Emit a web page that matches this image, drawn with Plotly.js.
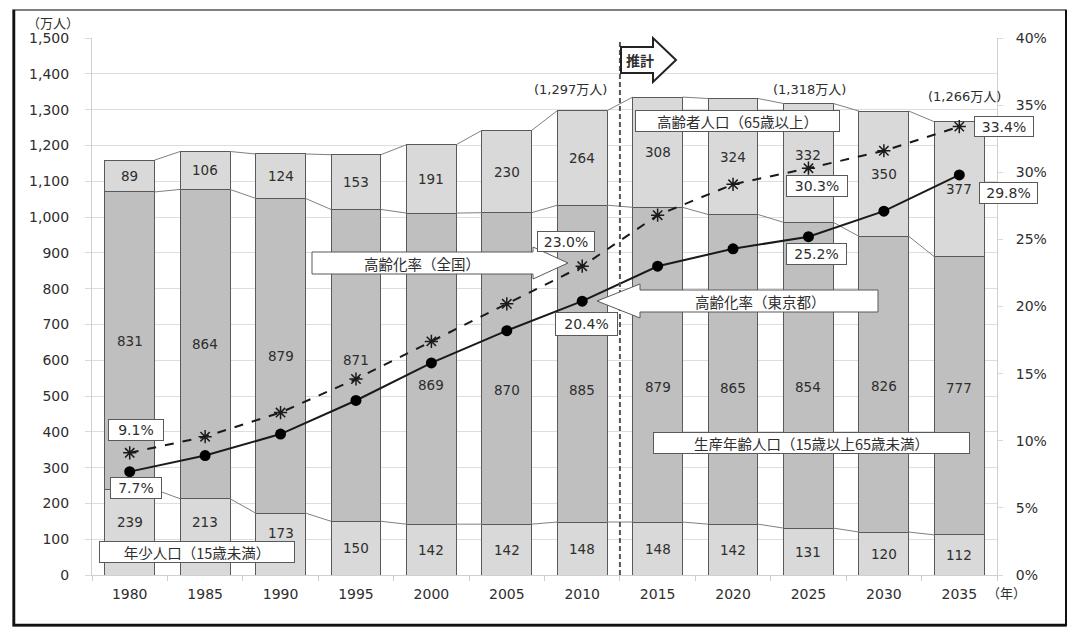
<!DOCTYPE html>
<html><head><meta charset="utf-8">
<script src="https://cdn.plot.ly/plotly-3.0.1.min.js"></script>
<style>html,body{margin:0;padding:0;background:#fff}</style>
</head><body><div id="chart" style="width:1080px;height:638px"></div>
<script>
// ---- data ----
const years = ['1980','1985','1990','1995','2000','2005','2010','2015','2020','2025','2030','2035'];
const young   = [239, 213, 173, 150, 142, 142, 148, 148, 142, 131, 120, 112];
const working = [831, 864, 879, 871, 869, 870, 885, 879, 865, 854, 826, 777];
const elderly = [89, 106, 124, 153, 191, 230, 264, 308, 324, 332, 350, 377];
const rateTokyo = [7.7, 8.9, 10.5, 13.0, 15.8, 18.2, 20.4, 23.0, 24.3, 25.2, 27.1, 29.8];
const rateJapan = [9.1, 10.3, 12.1, 14.6, 17.4, 20.2, 23.0, 26.8, 29.1, 30.3, 31.6, 33.4];
const totalIdx = [6, 9, 11];
const totalVal = [1297, 1318, 1266];

// ---- label placement tweaks (pixels) ----
const youngShift   = [10, 15, 11, 0, 0, 0, 0, 0, 0, 0, 0, 0];
const workShift    = [0, 0, 0, 5, -16, -22, -26, -22, -19, -12, -2, 8];
const elderShift   = [0, 0, 0, 0, 0, 0, 0, 0, 0, 8, 0, 0];

const idx = years.map((_, i) => i);
const BW = 0.66;
const FONT = 'DejaVu Sans, "Noto Sans CJK JP", sans-serif';
const JFONT = '"Noto Sans CJK JP", sans-serif';
const TXT = '#2e2e2e';

const cum1 = young.slice();
const cum2 = young.map((v, i) => v + working[i]);
const cum3 = cum2.map((v, i) => v + elderly[i]);

function seriesLine(c) {
  const xs = [], ys = [];
  for (let i = 0; i < c.length - 1; i++) {
    xs.push(i + BW / 2, i + 1 - BW / 2, null);
    ys.push(c[i], c[i + 1], null);
  }
  return {type: 'scatter', mode: 'lines', x: xs, y: ys, hoverinfo: 'skip',
          line: {color: '#808080', width: 1}, showlegend: false};
}

const barLine = {color: '#595959', width: 1};
const traces = [
  seriesLine(cum1), seriesLine(cum2), seriesLine(cum3),
  {type: 'bar', x: idx, y: young, width: BW, marker: {color: '#d9d9d9', line: barLine}, hoverinfo: 'y'},
  {type: 'bar', x: idx, y: working, width: BW, marker: {color: '#bfbfbf', line: barLine}, hoverinfo: 'y'},
  {type: 'bar', x: idx, y: elderly, width: BW, marker: {color: '#d9d9d9', line: barLine}, hoverinfo: 'y'},
  {type: 'scatter', mode: 'lines+markers', x: idx, y: rateJapan, yaxis: 'y2',
   line: {color: '#1a1a1a', width: 2, dash: 'dash'},
   marker: {symbol: 'asterisk-open', size: 11, line: {color: '#1a1a1a', width: 1.5}}},
  {type: 'scatter', mode: 'lines+markers', x: idx, y: rateTokyo, yaxis: 'y2',
   line: {color: '#1a1a1a', width: 2},
   marker: {symbol: 'circle', size: 11, color: '#000'}}
];

// ---- geometry helpers (plot area in pixels) ----
const L = 92, R = 997, T = 38, B = 575;
const px = x => (x - L) / (R - L);
const py = y => (B - y) / (B - T);
function path(pts) {
  return 'M' + pts.map(p => px(p[0]) + ',' + py(p[1])).join(' L') + ' Z';
}

const annotations = [];
const valFont = {family: FONT, size: 13.5, color: TXT};
// bar value labels
idx.forEach(i => {
  annotations.push({x: i, y: young[i] / 2, xref: 'x', yref: 'y', text: String(young[i]),
    showarrow: false, yshift: youngShift[i], font: valFont});
  annotations.push({x: i, y: young[i] + working[i] / 2, xref: 'x', yref: 'y', text: String(working[i]),
    showarrow: false, yshift: workShift[i], font: valFont});
  annotations.push({x: i, y: cum2[i] + elderly[i] / 2, xref: 'x', yref: 'y', text: String(elderly[i]),
    showarrow: false, yshift: elderShift[i], font: valFont});
});
// totals
const totShift = [[-12, 21], [1, 14], [5, 25]];
totalIdx.forEach((i, k) => {
  annotations.push({x: i, y: cum3[i], xref: 'x', yref: 'y',
    text: '(' + totalVal[k].toLocaleString('en-US') + '万人)', showarrow: false,
    xshift: totShift[k][0], yshift: totShift[k][1], font: {family: FONT, size: 13, color: TXT}});
});
// percent boxes
function pctBox(i, series, xs, ys, w, h) {
  annotations.push({x: i, y: series[i], xref: 'x', yref: 'y2', text: series[i].toFixed(1) + '%',
    showarrow: false, xshift: xs, yshift: ys, width: w - 6, height: h - 6, borderpad: 2,
    bordercolor: '#595959', borderwidth: 1, bgcolor: '#ffffff',
    font: {family: FONT, size: 14, color: TXT}});
}
pctBox(0, rateJapan, 6, 23, 56, 22);
pctBox(0, rateTokyo, 6, -16, 52, 22);
pctBox(6, rateJapan, -16, 25, 58, 21);
pctBox(6, rateTokyo, 4, -23, 63, 24);
pctBox(9, rateJapan, 9, -18, 62, 22);
pctBox(9, rateTokyo, 8, -17, 61, 22);
pctBox(11, rateJapan, 45, 0, 60, 21);
pctBox(11, rateTokyo, 49, -18, 59, 22);

// legend-like boxes
function pxBox(text, cx, cy, w, h) {
  annotations.push({x: px(cx), y: py(cy), xref: 'paper', yref: 'paper', xanchor: 'center', yanchor: 'middle',
    text: text, showarrow: false,
    width: w - 6, height: h - 6, borderpad: 2, bordercolor: '#595959', borderwidth: 1, bgcolor: '#ffffff',
    font: {family: JFONT, size: 14.5, color: TXT}});
}
pxBox('年少人口（15歳未満）', 197, 552, 196, 22);
pxBox('生産年齢人口（15歳以上65歳未満）', 811, 443, 317, 22);
pxBox('高齢者人口（65歳以上）', 737, 121, 205, 22);

function pxText(text, cx, cy, size, fam) {
  annotations.push({x: px(cx), y: py(cy), xref: 'paper', yref: 'paper', xanchor: 'center', yanchor: 'middle',
    text: text, showarrow: false, font: {family: fam || JFONT, size: size, color: TXT}});
}
pxText('高齢化率（全国）', 422, 263, 14.5);
pxText('高齢化率（東京都）', 760, 301, 14.5);
pxText('<b>推計</b>', 640, 60, 14);
pxText('（万人）', 53, 23, 13);
pxText('（年）', 1006, 592, 13);

const shapes = [
  // outer frame
  {type: 'rect', xref: 'paper', yref: 'paper', x0: px(13), x1: px(1066), y0: py(626), y1: py(10),
   line: {color: '#555555', width: 1.5}, layer: 'below'},
  {type: 'line', xref: 'paper', yref: 'paper', x0: px(14), x1: px(14), y0: py(626), y1: py(10),
   line: {color: '#111111', width: 2.5}, layer: 'below'},
  {type: 'line', xref: 'paper', yref: 'paper', x0: px(13), x1: px(1066), y0: py(625), y1: py(625),
   line: {color: '#111111', width: 2.5}, layer: 'below'},
  {type: 'line', xref: 'paper', yref: 'paper', x0: px(1066), x1: px(1066), y0: py(626), y1: py(10),
   line: {color: '#111111', width: 2}, layer: 'below'},
  // forecast divider
  {type: 'line', xref: 'x', yref: 'paper', x0: 6.5, x1: 6.5, y0: 0, y1: py(41),
   line: {color: '#555555', width: 2, dash: '5px,3px'}},
  // arrow callouts
  {type: 'path', xref: 'paper', yref: 'paper', fillcolor: '#ffffff', line: {color: '#595959', width: 1},
   path: path([[312,252],[533,252],[533,247],[568,263],[533,279],[533,274],[312,274]])},
  {type: 'path', xref: 'paper', yref: 'paper', fillcolor: '#ffffff', line: {color: '#595959', width: 1},
   path: path([[878,290],[640,290],[640,284],[597,301],[640,318],[640,312],[878,312]])},
  {type: 'path', xref: 'paper', yref: 'paper', fillcolor: '#ffffff', line: {color: '#222222', width: 2},
   path: path([[621,47],[653,47],[653,38],[676,60],[653,82],[653,73],[621,73]])}
];

const axisFont = {family: FONT, size: 14, color: TXT};
const layout = {
  width: 1080, height: 638,
  margin: {l: L, r: 1080 - R, t: T, b: 638 - B, pad: 0},
  paper_bgcolor: '#ffffff', plot_bgcolor: '#ffffff',
  barmode: 'stack', showlegend: false,
  xaxis: {range: [-0.5, 11.5], tickvals: idx, ticktext: years, ticks: '', showgrid: false,
          showline: true, linecolor: '#d0d0d0', linewidth: 1, zeroline: false,
          tickfont: axisFont, ticklabelstandoff: 6,
          minor: {tick0: -0.5, dtick: 1, ticks: 'outside', ticklen: 5, tickcolor: '#cfcfcf', showgrid: false}},
  yaxis: {range: [0, 1500], dtick: 100, tickformat: ',', showgrid: true, gridcolor: '#dddddd', gridwidth: 1,
          showline: true, linecolor: '#d0d0d0', ticks: 'outside', ticklen: 6, tickcolor: '#d9d9d9',
          zeroline: false, tickfont: axisFont, ticklabelstandoff: 13},
  yaxis2: {range: [0, 40], dtick: 5, ticksuffix: '%', overlaying: 'y', side: 'right', showgrid: false,
           showline: true, linecolor: '#d0d0d0', ticks: 'outside', ticklen: 5, tickcolor: '#d9d9d9',
           zeroline: false, tickfont: axisFont, ticklabelstandoff: 10},
  annotations: annotations, shapes: shapes
};

Plotly.newPlot('chart', traces, layout, {displayModeBar: false, staticPlot: true});
</script></body></html>
